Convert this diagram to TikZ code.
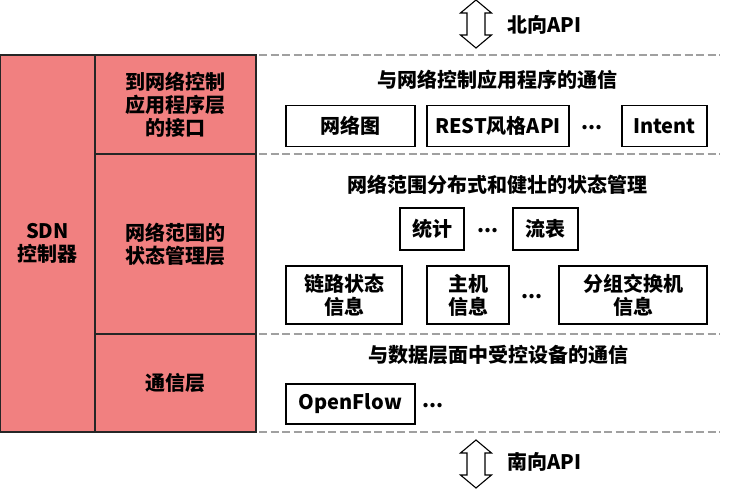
\documentclass[tikz,border=0pt]{standalone}
\usepackage{fontspec}
\setmainfont{Noto Sans CJK SC}
\usepackage{tikz}
\usetikzlibrary{positioning}
\definecolor{cLayer}{RGB}{241,128,128}
\definecolor{cSep}{RGB}{160,160,160}
\tikzset{
	layer/.style  ={rectangle, draw=black!85, line width=1.6pt, fill=cLayer, align=center, inner sep=0pt},
	item/.style   ={rectangle, draw=black, line width=1.3pt, align=center, inner sep=0pt},
	title/.style  ={align=center, inner sep=0pt},
	divider/.style={draw=cSep, line width=2pt, dash pattern=on 8pt off 3.5pt},
	apiarrow/.style={draw=black, line width=1.1pt, line join=miter, fill=white},
}
\begin{document}
\begin{tikzpicture}[x=1pt, y=-1pt, font=\fontsize{20}{23}\selectfont\bfseries, node distance=14pt]
	\useasboundingbox (0,0) rectangle (740,489);
	% controller column and its three layers
	\node[layer, minimum width=95pt, minimum height=377pt] (sdn) at (47.5,243.5) {SDN\\控制器};
	\node[layer, minimum width=161pt, minimum height=99pt] (north layer) at (175.5,104.5) {到网络控制\\应用程序层\\的接口};
	\node[layer, minimum width=161pt, minimum height=180pt] (state layer) at (175.5,244) {网络范围的\\状态管理层};
	\node[layer, minimum width=161pt, minimum height=98pt] (comm layer) at (175.5,383) {通信层};
	% dashed separators
	\foreach \y in {55,154,334,432}
		\draw[divider] (259,\y) -- (720,\y);
	% hollow double arrows for the two APIs
	\foreach \cy/\nm in {24/north,464/south} {
		\coordinate (\nm) at (476,\cy);
		\draw[apiarrow, shift={(\nm)}] (0,-24) -- (15.5,-11) -- (9,-11) -- (9,11) -- (15.5,11) -- (0,24)
			-- (-15.5,11) -- (-9,11) -- (-9,-11) -- (-15.5,-11) -- cycle;
	}
	\node[title, anchor=west] (north lbl) at (507,25) {北向API};
	\node[title] (t1) at (497,80) {与网络控制应用程序的通信};
	\node[item, minimum width=129pt, minimum height=41pt] (graph) at (350.5,126) {网络图};
	\node[item, minimum width=142pt, minimum height=41pt] (rest) at (498,126) {REST风格API};
	\node[item, minimum width=85pt, minimum height=41pt] (intent) at (664.5,126) {Intent};
	\node[title] (d1) at (592,128) {...};
	% state management
	\node[title] (t2) at (497,185) {网络范围分布式和健壮的状态管理};
	\node[item, minimum width=64pt, minimum height=42pt] (stats) at (432,229) {统计};
	\node[title] (d2) at (488,231) {...};
	\node[item, minimum width=65pt, minimum height=42pt] (flow) at (545.5,229) {流表};
	\node[item, minimum width=116pt, minimum height=58pt] (link) at (344,295) {链路状态\\信息};
	\node[item, minimum width=82pt, minimum height=58pt] (host) at (468,295) {主机\\信息};
	\node[title] (d3) at (532,297) {...};
	\node[item, minimum width=148pt, minimum height=58pt] (switch) at (633,295) {分组交换机\\信息};
	% southbound
	\node[title] (t3) at (498,355) {与数据层面中受控设备的通信};
	\node[item, minimum width=129pt, minimum height=40pt] (openflow) at (350.5,404) {OpenFlow};
	\node[title] (d4) at (433,406) {...};
	\node[title, anchor=west] (south lbl) at (507,462) {南向API};
\end{tikzpicture}
\end{document}
